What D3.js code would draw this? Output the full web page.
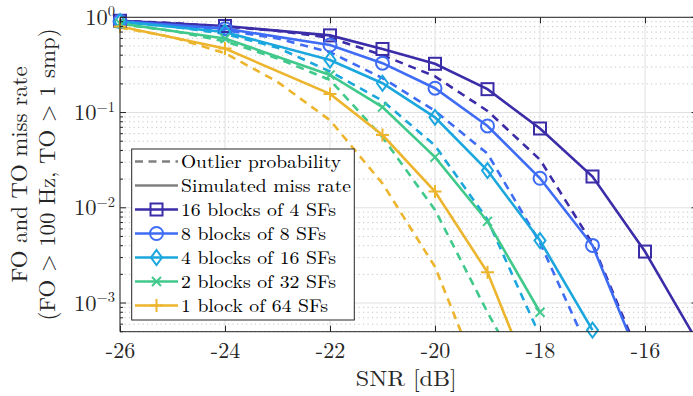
<!DOCTYPE html>
<html><head><meta charset="utf-8">
<script src="https://cdn.jsdelivr.net/npm/d3@7"></script>
<style>
body{margin:0;background:#fff}
svg{display:block}
text{font-family:'Latin Modern Roman','CMU Serif','Liberation Serif',serif;}
</style></head>
<body><svg id="c" width="693" height="396"></svg>
<script>
// ---------- data ----------
const snrSim = [-26,-24,-22,-21,-20,-19,-18,-17,-16,-15];
const sim16 = [0.92,0.81,0.646,0.465,0.325,0.176,0.068,0.0213,0.00347,0.00039];
const sim8  = [0.91,0.76,0.512,0.33,0.18,0.0723,0.0204,0.00403,0.00018];
const sim4  = [0.90,0.70,0.356,0.203,0.089,0.0246,0.00453,0.00052];
const sim2  = [0.86,0.60,0.248,0.114,0.034,0.0072,0.0008];
const sim1  = [0.80,0.47,0.157,0.058,0.0148,0.0021,0.00009];

const snrOut = [-26,-25,-24,-23,-22,-21,-20,-19,-18,-17,-16];
const out16 = [0.92,0.87,0.80,0.72,0.61,0.40,0.24,0.104,0.032,0.0042,0.0002];
const out8  = [0.90,0.83,0.73,0.60,0.43,0.23,0.104,0.037,0.0043,0.00026];
const out4  = [0.89,0.80,0.67,0.48,0.27,0.133,0.045,0.0075,0.00045,0.00002];
const out2  = [0.85,0.72,0.56,0.37,0.22,0.055,0.0095,0.0008,0.00008];
const out1  = [0.78,0.62,0.42,0.21,0.083,0.018,0.0024,0.0001];

const seriesLabels = ["16 blocks of 4 SFs","8 blocks of 8 SFs","4 blocks of 16 SFs","2 blocks of 32 SFs","1 block of 64 SFs"];
const seriesColors = ["#3b2ca8","#3f6cf4","#1ba7de","#40c98b","#ecb52d"];
const seriesMarkers = ["square","circle","diamond","x","plus"];
const xTicks = [-26,-24,-22,-20,-18,-16];
const yTicks = [1e-3,1e-2,1e-1,1];
const yTickExp = ["\u22123","\u22122","\u22121","0"];
const xLabel = "SNR [dB]";
const yLabel1 = "FO and TO miss rate";
const yLabel2 = "(FO > 100 Hz, TO > 1 smp)";
const legendTop = ["Outlier probability","Simulated miss rate"];

// ---------- layout ----------
const L = 120, R = 697.5, T = 17.3, B = 331.7;
const x = d3.scaleLinear().domain([-26,-15]).range([L,R]);
const y = d3.scaleLog().domain([5e-4,1]).range([B,T]);
const svg = d3.select("#c");
const axisCol = "#262626";

svg.append("defs").append("clipPath").attr("id","clip")
  .append("rect").attr("x",L).attr("y",T).attr("width",R-L).attr("height",B-T);

// grid
const minorVals = [];
for (let e=-4;e<0;e++) for (let m=2;m<=9;m++){ const v=m*Math.pow(10,e); if(v>=5e-4 && v<1) minorVals.push(v); }
const grid = svg.append("g");
grid.selectAll(".mg").data(minorVals).join("line")
  .attr("x1",L).attr("x2",R).attr("y1",d=>y(d)).attr("y2",d=>y(d))
  .attr("stroke","#c4c4c4").attr("stroke-width",1).attr("stroke-dasharray","1.2,3.3");
grid.selectAll(".gy").data(yTicks).join("line")
  .attr("x1",L).attr("x2",R).attr("y1",d=>y(d)).attr("y2",d=>y(d))
  .attr("stroke","#e0e0e0").attr("stroke-width",1);
grid.selectAll(".gx").data(xTicks).join("line")
  .attr("y1",T).attr("y2",B).attr("x1",d=>x(d)).attr("x2",d=>x(d))
  .attr("stroke","#e0e0e0").attr("stroke-width",1);

// series
const sim = [sim16,sim8,sim4,sim2,sim1];
const out = [out16,out8,out4,out2,out1];
const line = d3.line().x(d=>x(d[0])).y(d=>y(d[1]));
const plot = svg.append("g").attr("clip-path","url(#clip)");

out.forEach((vals,i)=>{
  const pts = vals.map((v,j)=>[snrOut[j],v]);
  plot.append("path").attr("d",line(pts)).attr("fill","none")
    .attr("stroke",seriesColors[i]).attr("stroke-width",2.6).attr("stroke-dasharray","8,6");
});
sim.forEach((vals,i)=>{
  const pts = vals.map((v,j)=>[snrSim[j],v]);
  plot.append("path").attr("d",line(pts)).attr("fill","none")
    .attr("stroke",seriesColors[i]).attr("stroke-width",2.6);
});

function marker(g,type,cx,cy,col){
  const sw=2;
  if(type==="square") g.append("rect").attr("x",cx-6).attr("y",cy-6).attr("width",12).attr("height",12)
      .attr("fill","none").attr("stroke",col).attr("stroke-width",sw);
  else if(type==="circle") g.append("circle").attr("cx",cx).attr("cy",cy).attr("r",6.5)
      .attr("fill","none").attr("stroke",col).attr("stroke-width",sw);
  else if(type==="diamond") g.append("path").attr("d",`M${cx},${cy-7.5}L${cx+5.5},${cy}L${cx},${cy+7.5}L${cx-5.5},${cy}Z`)
      .attr("fill","none").attr("stroke",col).attr("stroke-width",sw);
  else if(type==="x") g.append("path").attr("d",`M${cx-4.5},${cy-4.5}L${cx+4.5},${cy+4.5}M${cx-4.5},${cy+4.5}L${cx+4.5},${cy-4.5}`)
      .attr("fill","none").attr("stroke",col).attr("stroke-width",sw);
  else if(type==="plus") g.append("path").attr("d",`M${cx-6.5},${cy}L${cx+6.5},${cy}M${cx},${cy-6.5}L${cx},${cy+6.5}`)
      .attr("fill","none").attr("stroke",col).attr("stroke-width",sw);
}
const mk = svg.append("g");
sim.forEach((vals,i)=>{
  vals.forEach((v,j)=>{
    if(v>=5e-4 && snrSim[j]<=-15.1) marker(mk,seriesMarkers[i],x(snrSim[j]),y(v),seriesColors[i]);
  });
});

// axes box
const ax = svg.append("g");
ax.append("path").attr("d",`M${L},${B}L${L},${T}L${R},${T}L${R},${B}Z`).attr("fill","none")
  .attr("stroke",axisCol).attr("stroke-width",1);

const xb = svg.append("g").attr("transform",`translate(0,${B})`)
  .call(d3.axisBottom(x).tickValues(xTicks).tickSize(-6).tickFormat(d=>String(d)));
xb.select(".domain").remove();
xb.selectAll("line").attr("stroke",axisCol);
xb.selectAll("text").attr("y",26.5).attr("dy",0).attr("font-size",22).attr("fill",axisCol);
const xt = svg.append("g").attr("transform",`translate(0,${T})`)
  .call(d3.axisTop(x).tickValues(xTicks).tickSize(-6).tickFormat(""));
xt.select(".domain").remove();
xt.selectAll("line").attr("stroke",axisCol);

// y ticks
const yt = svg.append("g");
yTicks.forEach(v=>{
  yt.append("line").attr("x1",L).attr("x2",L+6).attr("y1",y(v)).attr("y2",y(v)).attr("stroke",axisCol);
  yt.append("line").attr("x1",R).attr("x2",R-6).attr("y1",y(v)).attr("y2",y(v)).attr("stroke",axisCol);
});
minorVals.forEach(v=>{
  yt.append("line").attr("x1",L).attr("x2",L+3).attr("y1",y(v)).attr("y2",y(v)).attr("stroke",axisCol);
  yt.append("line").attr("x1",R).attr("x2",R-3).attr("y1",y(v)).attr("y2",y(v)).attr("stroke",axisCol);
});
yTicks.forEach((v,i)=>{
  const t = yt.append("text").attr("x",115).attr("y",y(v)+7.5).attr("text-anchor","end")
    .attr("fill",axisCol).attr("font-size",22.5);
  t.append("tspan").text("10");
  t.append("tspan").attr("dy",-8.5).attr("font-size",14.5).text(yTickExp[i]);
});

// labels
svg.append("text").attr("x",(L+R-5)/2).attr("y",386).attr("text-anchor","middle")
  .attr("font-size",22).attr("fill",axisCol).attr("textLength",101).attr("lengthAdjust","spacingAndGlyphs").text(xLabel);
const cy = (T+B)/2;
svg.append("text").attr("transform",`translate(27,${cy}) rotate(-90)`).attr("text-anchor","middle")
  .attr("font-size",22.5).attr("fill",axisCol).attr("textLength",216).attr("lengthAdjust","spacingAndGlyphs").text(yLabel1);
svg.append("text").attr("transform",`translate(55,${cy}) rotate(-90)`).attr("text-anchor","middle")
  .attr("font-size",22.5).attr("fill",axisCol).attr("textLength",292).attr("lengthAdjust","spacingAndGlyphs").text(yLabel2);

// legend
const lg = svg.append("g");
lg.append("rect").attr("x",131.7).attr("y",149).attr("width",222.6).attr("height",171)
  .attr("fill","#fff").attr("stroke",axisCol).attr("stroke-width",1);
const rowY = i=>161.5+24*i;
const lens = [160,170,155,145,155,155,147];
const allLabels = legendTop.concat(seriesLabels);
allLabels.forEach((lab,i)=>{
  const yy = rowY(i);
  const col = i<2 ? "#808080" : seriesColors[i-2];
  const ln = lg.append("line").attr("x1",135).attr("x2",178).attr("y1",yy).attr("y2",yy)
    .attr("stroke",col).attr("stroke-width",2.6);
  if(i===0) ln.attr("stroke-dasharray","8,5.5");
  if(i>=2) marker(lg,seriesMarkers[i-2],156.5,yy,col);
  lg.append("text").attr("x",181).attr("y",yy+6.3).attr("font-size",18.2).attr("fill","#000")
    .attr("textLength",lens[i]).attr("lengthAdjust","spacingAndGlyphs").text(lab);
});
</script>
</body></html>
